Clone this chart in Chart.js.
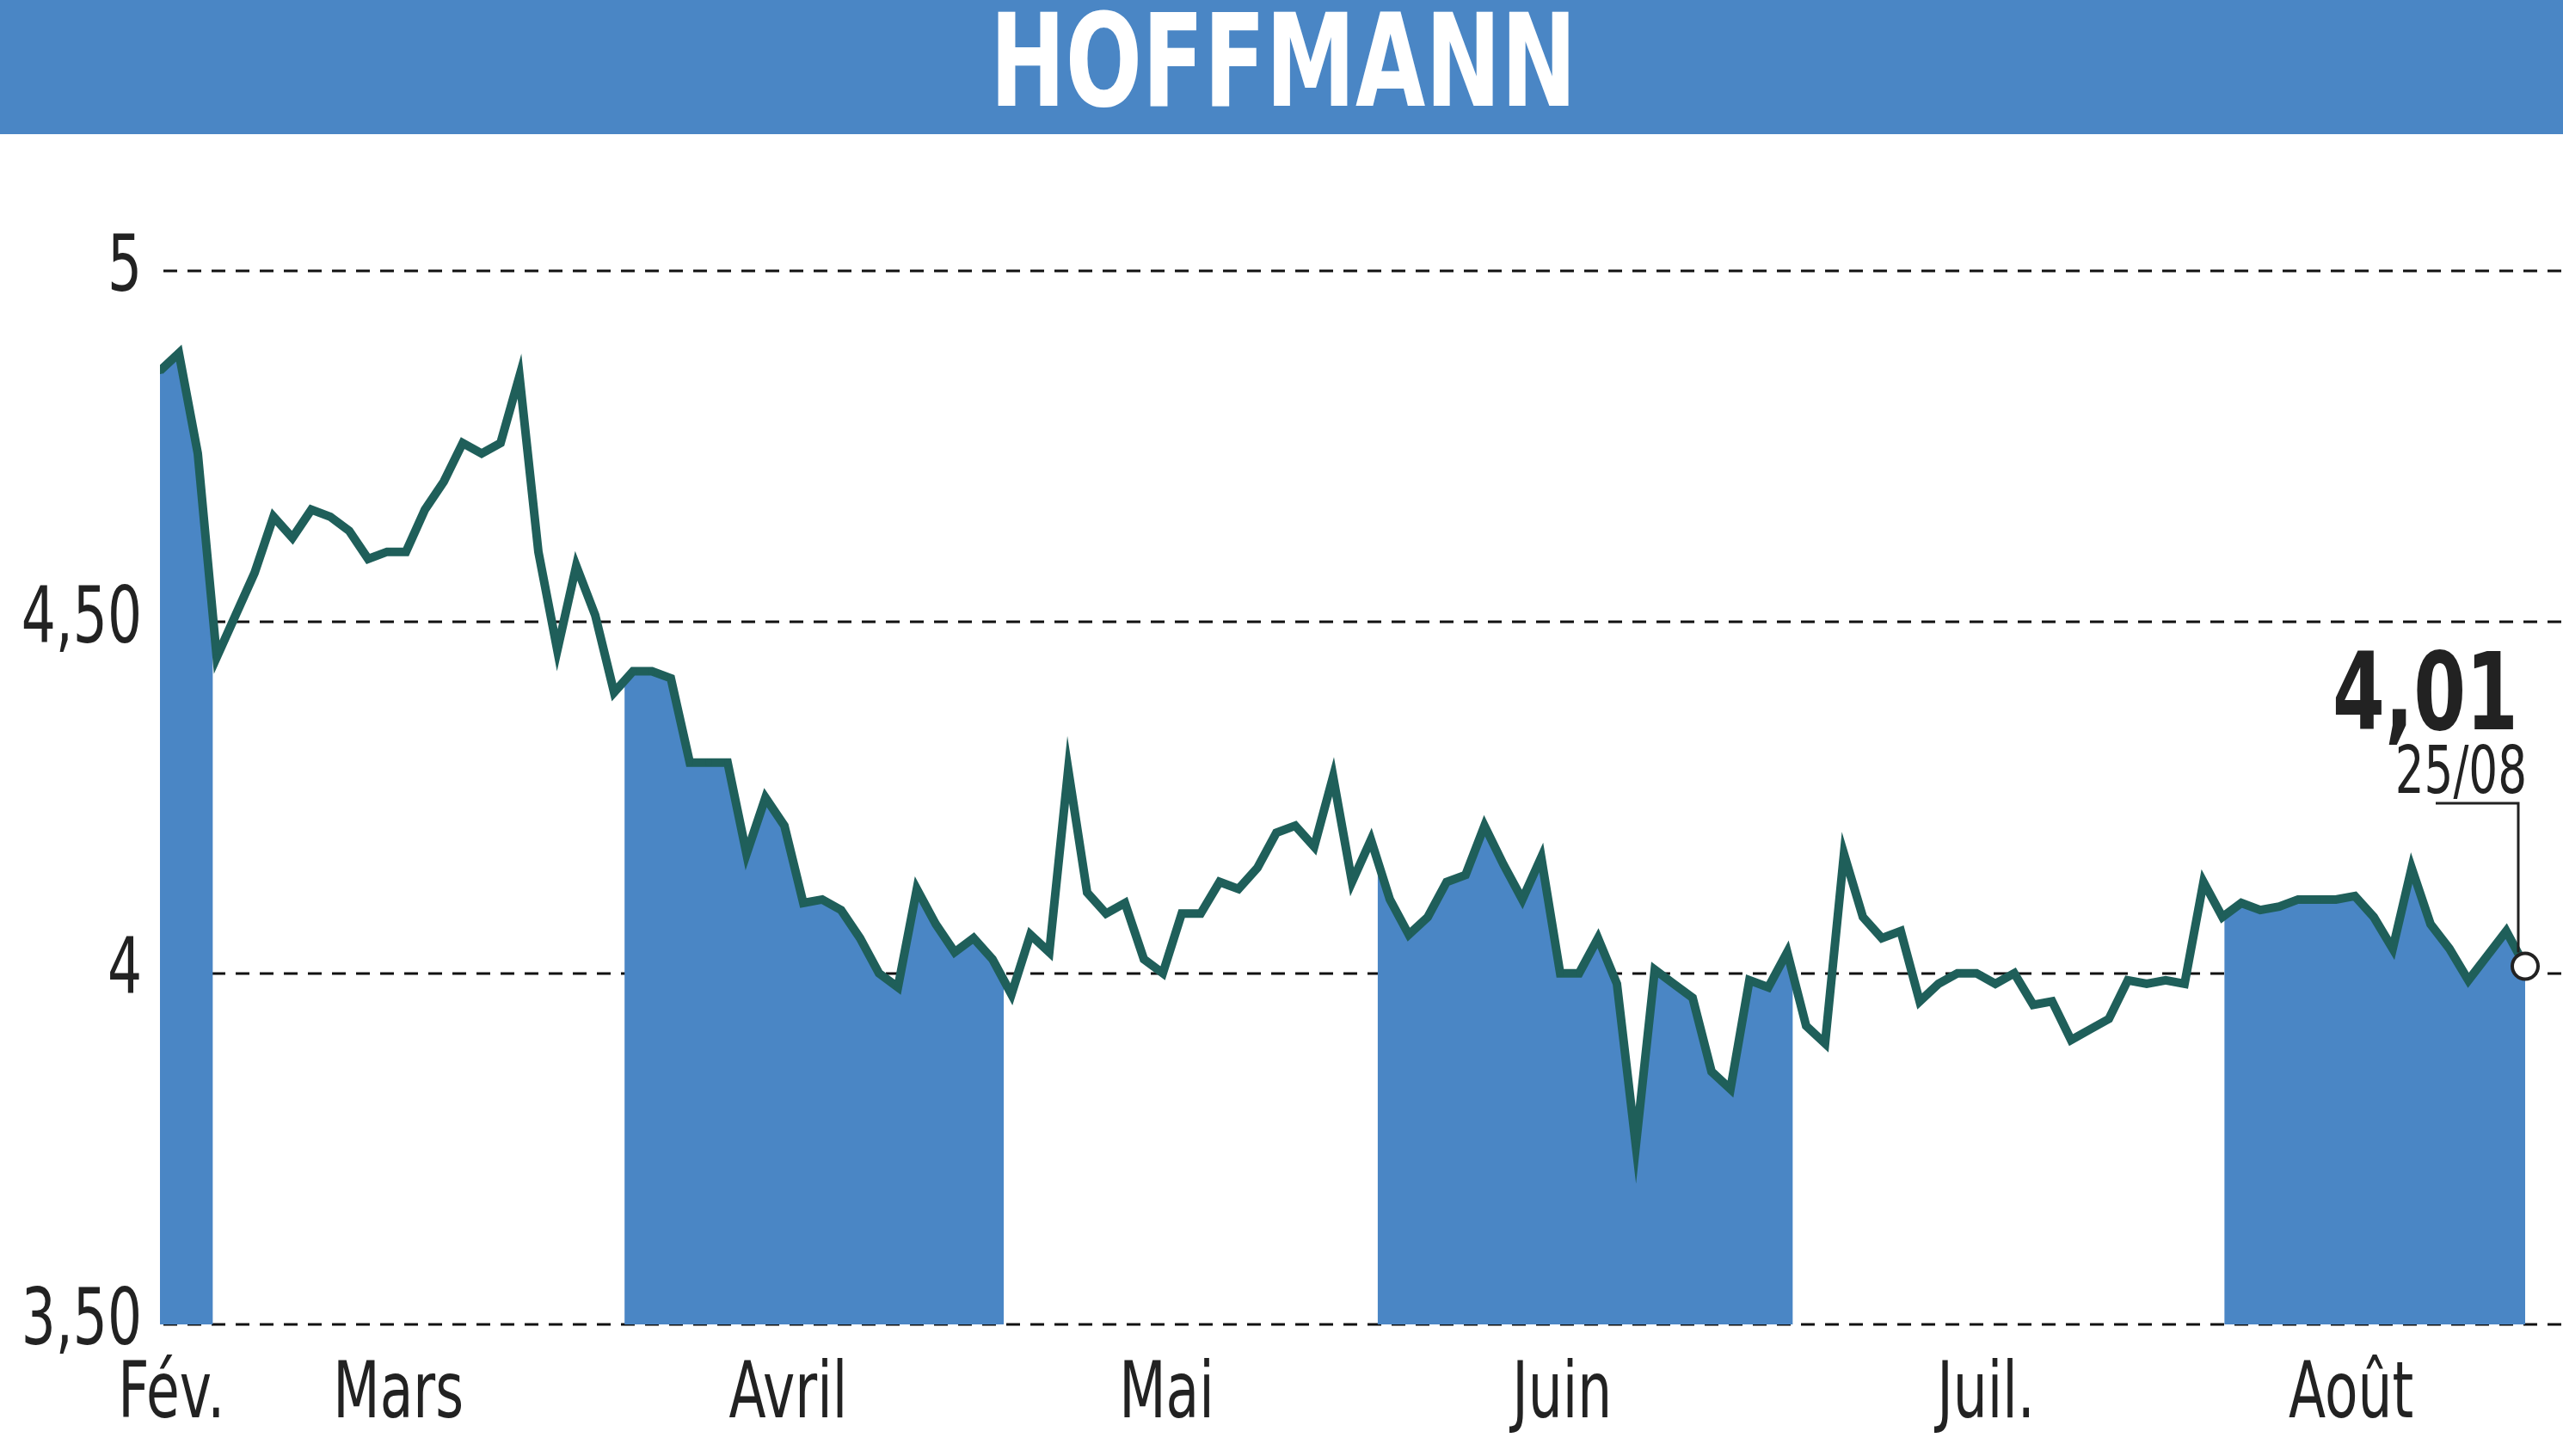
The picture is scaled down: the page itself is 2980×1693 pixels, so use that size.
<!DOCTYPE html>
<html><head><meta charset="utf-8">
<script src="https://cdn.jsdelivr.net/npm/chart.js@4/dist/chart.umd.min.js"></script>
<style>html,body{margin:0;padding:0;background:#fff}canvas{display:block}</style>
</head><body>
<canvas id="c" width="2980" height="1693" style="width:2980px;height:1693px"></canvas>
<script>
const title = "HOFFMANN";
const prices = [4.858,4.883,4.74,4.45,4.51,4.57,4.65,4.62,4.66,4.65,4.63,4.59,4.60,4.60,4.66,4.70,4.755,4.74,4.755,4.85,
4.60,4.46,4.58,4.51,4.40,4.43,4.43,4.42,4.30,4.30,4.30,4.17,4.25,4.21,4.10,4.105,4.09,4.05,4.00,3.98,
4.12,4.07,4.03,4.05,4.02,3.97,4.055,4.03,4.29,4.115,4.085,4.10,4.02,4.00,4.085,4.085,4.13,4.12,4.15,4.20,
4.21,4.18,4.28,4.13,4.19,4.105,4.055,4.08,4.13,4.14,4.21,4.155,4.105,4.165,4.00,4.00,4.05,3.985,3.755,4.005,
3.985,3.965,3.86,3.835,3.99,3.98,4.03,3.925,3.90,4.17,4.08,4.05,4.06,3.96,3.985,4.00,4.00,3.985,4.00,3.955,
3.96,3.905,3.92,3.935,3.99,3.985,3.99,3.985,4.13,4.08,4.10,4.09,4.095,4.105,4.105,4.105,4.11,4.08,4.035,4.15,
4.07,4.035,3.99,4.025,4.06,4.01];
const bandRanges = [[0,2.8],[24.55,44.6],[64.35,86.3],[109.1,127]];
const monthLabels = ["Fév.","Mars","Avril","Mai","Juin","Juil.","Août"];
const monthPos = [0.6,12.6,33.2,53.2,74.1,96.5,115.8];
const yTicks = [3.5,4,4.5,5];
const yTickLabels = ["3,50","4","4,50","5"];
const lastLabel = "4,01";
const lastDate = "25/08";

const FONT = "'DejaVu Sans',sans-serif";
const SX = 0.7;
const lineData = prices.map((v,i)=>({x:i,y:v}));
const fillSets = bandRanges.map(r=>{
  const pts=[];
  const val = x => { const a=Math.floor(x), b=Math.min(a+1,prices.length-1); return prices[a]+(prices[b]-prices[a])*(x-a); };
  pts.push({x:r[0],y:val(r[0])});
  for(let i=Math.ceil(r[0]);i<=Math.floor(r[1]);i++) if(i>r[0]&&i<r[1]) pts.push({x:i,y:prices[i]});
  pts.push({x:r[1],y:val(r[1])});
  return pts;
});
function ctext(c,t,x,y,align){
  c.save(); c.translate(x,y); c.scale(SX,1); c.textAlign=align; c.fillText(t,0,0); c.restore();
}

const deco = {
  id:'deco',
  beforeDraw(ch){
    const c=ch.ctx, W=ch.width;
    c.save();
    c.fillStyle='#4a86c5'; c.fillRect(0,0,W,156);
    c.fillStyle='#fff'; c.font="bold 150px "+FONT; c.textBaseline='middle';
    ctext(c,title,1492,84,'center');
    c.restore();
  },
  beforeDatasetsDraw(ch){
    const c=ch.ctx, y=ch.scales.y;
    c.save();
    c.strokeStyle='#111'; c.lineWidth=3; c.setLineDash([16,12]);
    yTicks.forEach(t=>{const p=Math.round(y.getPixelForValue(t)); c.beginPath(); c.moveTo(190,p); c.lineTo(ch.width,p); c.stroke();});
    c.restore();
  },
  afterDatasetsDraw(ch){
    const c=ch.ctx, x=ch.scales.x, y=ch.scales.y;
    c.save();
    c.fillStyle='#222'; c.font="90px "+FONT; c.textBaseline='middle';
    yTicks.forEach((t,i)=>ctext(c,yTickLabels[i],165,y.getPixelForValue(t),'right'));
    c.textBaseline='alphabetic';
    monthLabels.forEach((m,i)=>ctext(c,m,x.getPixelForValue(monthPos[i]),1648,'center'));
    const li=prices.length-1, px=x.getPixelForValue(li), py=y.getPixelForValue(prices[li]);
    c.fillStyle='#222'; c.font="bold 125px "+FONT;
    ctext(c,lastLabel,2928,848,'right');
    c.font="76px "+FONT; ctext(c,lastDate,2938,922,'right');
    c.strokeStyle='#222'; c.lineWidth=3; c.beginPath(); c.moveTo(2832,934); c.lineTo(2928,934); c.lineTo(2928,py-16); c.stroke();
    c.fillStyle='#fff'; c.beginPath(); c.arc(px,py,15,0,Math.PI*2); c.fill(); c.lineWidth=4; c.stroke();
    c.restore();
  }
};

new Chart(document.getElementById('c'),{
  type:'line',
  data:{datasets:[
    {data:lineData,borderColor:'#1f5f5a',borderWidth:10,pointRadius:4,pointBackgroundColor:'#1f5f5a',pointBorderWidth:0,tension:0,fill:false,order:0},
    ...fillSets.map(d=>({data:d,borderWidth:0,pointRadius:0,backgroundColor:'#4a86c5',fill:'start',tension:0,order:1}))
  ]},
  options:{
    responsive:false,animation:false,devicePixelRatio:1,
    layout:{padding:{left:186,right:44,top:315,bottom:153}},
    plugins:{legend:{display:false},tooltip:{enabled:false}},
    scales:{
      x:{type:'linear',min:0,max:prices.length-1,display:false},
      y:{min:3.5,max:5,display:false}
    }
  },
  plugins:[deco]
});
</script>
</body></html>
